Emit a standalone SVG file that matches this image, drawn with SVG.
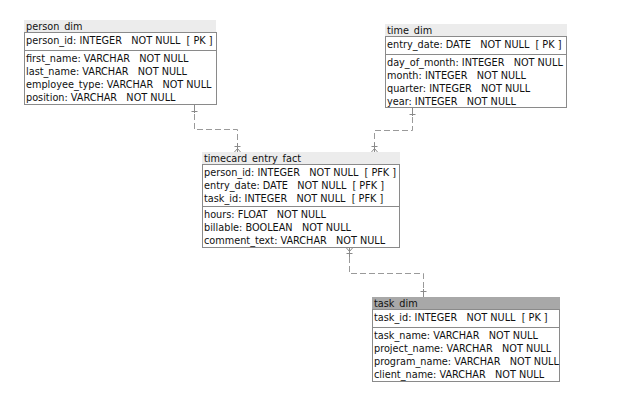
<svg xmlns="http://www.w3.org/2000/svg" width="617" height="413" viewBox="0 0 617 413">
<style>
text{font-family:"DejaVu Sans Condensed","DejaVu Sans",sans-serif;font-stretch:condensed;font-size:10.8px;fill:#111;white-space:pre}
.hd{fill:#ececec;stroke:none}
.hds{fill:#a8a8a8;stroke:none}
.box{fill:#fff;stroke:#8a8a8a;stroke-width:1}
.sep{stroke:#8a8a8a;stroke-width:1}
.con{fill:none;stroke:#9a9a9a;stroke-width:1;stroke-dasharray:6,3}
.mk{fill:none;stroke:#8a8a8a;stroke-width:1}
</style>
<rect width="617" height="413" fill="#fff"/>
<g id="connectors">
<path class="con" d="M194.5,105 V129.5 H237.5 V152"/>
<path class="con" d="M412.5,108 V130.5 H374.5 V152"/>
<path class="con" d="M349.5,248 V273.5 H423.5 V297"/>
<path class="mk" d="M194.5,105 V113 M191.5,111.5 H197.5"/>
<path class="mk" d="M412.5,108 V116 M409.5,114.5 H415.5"/>
<path class="mk" d="M423.5,289 V297 M420.5,291.5 H426.5"/>
<path class="mk" d="M237.5,143 V152 M234.5,146.5 H240.5 M237.5,148.5 L234.5,152 M237.5,148.5 L240.5,152"/>
<path class="mk" d="M374.5,143 V152 M371.5,146.5 H377.5 M374.5,148.5 L371.5,152 M374.5,148.5 L377.5,152"/>
<path class="mk" d="M349.5,248 V257 M346.5,253.5 H352.5 M349.5,251.5 L346.5,248 M349.5,251.5 L352.5,248"/>
</g>
<g id="person_dim">
<rect class="hd" x="24" y="20" width="192" height="12"/>
<text x="26" y="30">person_dim</text>
<rect class="box" x="24.5" y="32.5" width="192" height="72"/>
<text x="26" y="44">person_id: INTEGER   NOT NULL  [ PK ]</text>
<line class="sep" x1="24" y1="50.5" x2="217" y2="50.5"/>
<text x="26" y="62">first_name: VARCHAR   NOT NULL</text>
<text x="26" y="75">last_name: VARCHAR   NOT NULL</text>
<text x="26" y="88">employee_type: VARCHAR   NOT NULL</text>
<text x="26" y="101">position: VARCHAR   NOT NULL</text>
</g>
<g id="time_dim">
<rect class="hd" x="385" y="24" width="182" height="12"/>
<text x="387" y="34">time_dim</text>
<rect class="box" x="385.5" y="36.5" width="181" height="71"/>
<text x="387" y="48">entry_date: DATE   NOT NULL  [ PK ]</text>
<line class="sep" x1="385" y1="54.5" x2="567" y2="54.5"/>
<text x="387" y="66">day_of_month: INTEGER   NOT NULL</text>
<text x="387" y="79">month: INTEGER   NOT NULL</text>
<text x="387" y="92">quarter: INTEGER   NOT NULL</text>
<text x="387" y="105">year: INTEGER   NOT NULL</text>
</g>
<g id="timecard_entry_fact">
<rect class="hd" x="202" y="152" width="198" height="12"/>
<text x="204" y="162">timecard_entry_fact</text>
<rect class="box" x="202.5" y="164.5" width="197" height="83"/>
<text x="204" y="176">person_id: INTEGER   NOT NULL  [ PFK ]</text>
<text x="204" y="189">entry_date: DATE   NOT NULL  [ PFK ]</text>
<text x="204" y="202">task_id: INTEGER   NOT NULL  [ PFK ]</text>
<line class="sep" x1="202" y1="206.5" x2="400" y2="206.5"/>
<text x="204" y="218">hours: FLOAT   NOT NULL</text>
<text x="204" y="231">billable: BOOLEAN   NOT NULL</text>
<text x="204" y="244">comment_text: VARCHAR   NOT NULL</text>
</g>
<g id="task_dim">
<rect class="hds" x="372" y="297" width="188" height="12"/>
<text x="374" y="307">task_dim</text>
<rect class="box" x="372.5" y="309.5" width="187" height="72"/>
<text x="374" y="321">task_id: INTEGER   NOT NULL  [ PK ]</text>
<line class="sep" x1="372" y1="327.5" x2="560" y2="327.5"/>
<text x="374" y="339">task_name: VARCHAR   NOT NULL</text>
<text x="374" y="352">project_name: VARCHAR   NOT NULL</text>
<text x="374" y="365">program_name: VARCHAR   NOT NULL</text>
<text x="374" y="378">client_name: VARCHAR   NOT NULL</text>
</g>
</svg>
